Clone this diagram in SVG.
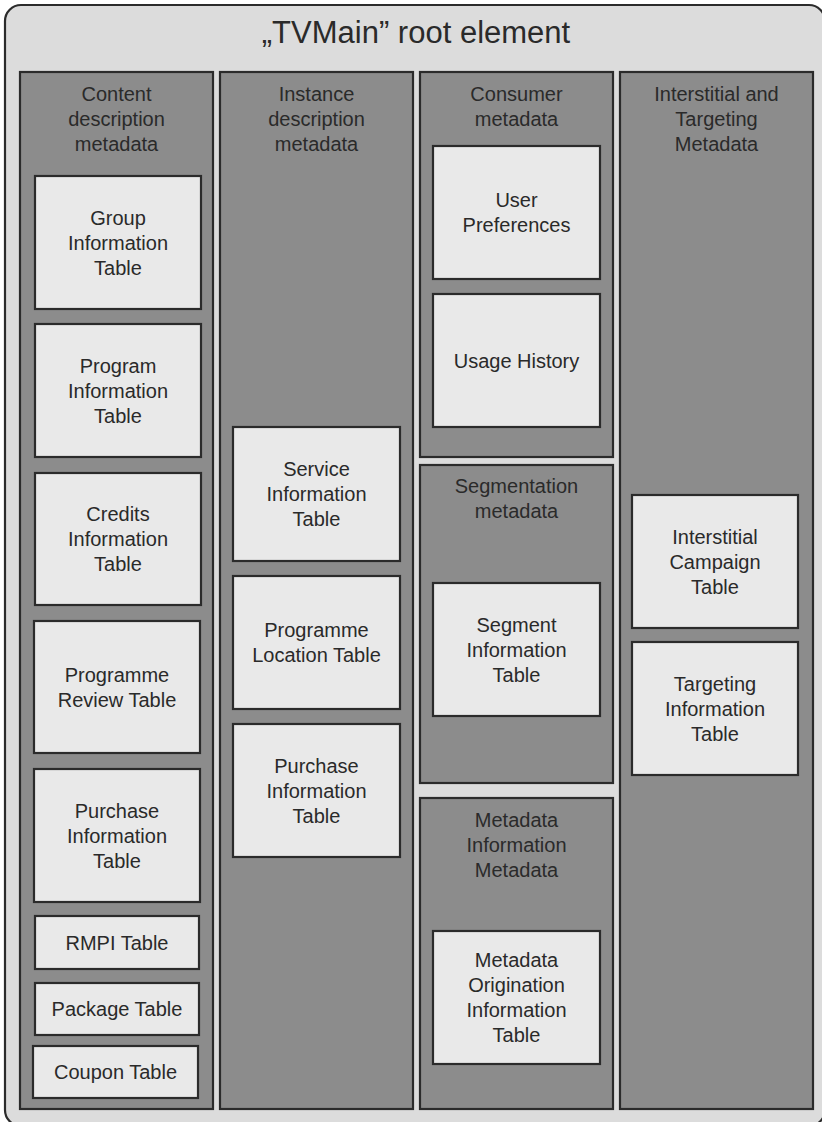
<svg xmlns="http://www.w3.org/2000/svg" width="822" height="1122" viewBox="0 0 822 1122">
<style>
.outer{fill:#dcdcdc;stroke:#2b2b2b;stroke-width:2.2}
.col{fill:#8c8c8c;stroke:#2b2b2b;stroke-width:2.2}
.box{fill:#e9e9e9;stroke:#2b2b2b;stroke-width:2.2}
text{font-family:"Liberation Sans",Arial,sans-serif;font-size:20px;fill:#2a2a2a;text-anchor:middle}
.title{font-size:31px}
</style>
<rect x="0" y="0" width="822" height="1122" fill="#ffffff"/>
<g id="root">
<rect class="outer" x="5" y="5" width="820" height="1121" rx="16"/>
<text class="title" x="416" y="43">„TVMain” root element</text>
</g>
<g id="col-content">
<rect class="col" x="20" y="72" width="193" height="1037"/>
<text x="116.5" y="101">Content</text>
<text x="116.5" y="126">description</text>
<text x="116.5" y="151">metadata</text>
</g>
<g id="col-instance">
<rect class="col" x="220" y="72" width="193" height="1037"/>
<text x="316.5" y="101">Instance</text>
<text x="316.5" y="126">description</text>
<text x="316.5" y="151">metadata</text>
</g>
<g id="panel-consumer">
<rect class="col" x="420" y="72" width="193" height="385"/>
<text x="516.5" y="101">Consumer</text>
<text x="516.5" y="126">metadata</text>
</g>
<g id="panel-segmentation">
<rect class="col" x="420" y="465" width="193" height="318"/>
<text x="516.5" y="493">Segmentation</text>
<text x="516.5" y="518">metadata</text>
</g>
<g id="panel-metainfo">
<rect class="col" x="420" y="798" width="193" height="311"/>
<text x="516.5" y="827">Metadata</text>
<text x="516.5" y="852">Information</text>
<text x="516.5" y="877">Metadata</text>
</g>
<g id="col-interstitial">
<rect class="col" x="620" y="72" width="193" height="1037"/>
<text x="716.5" y="101">Interstitial and</text>
<text x="716.5" y="126">Targeting</text>
<text x="716.5" y="151">Metadata</text>
</g>
<g id="group-info">
<rect class="box" x="35" y="176" width="166" height="133"/>
<text x="118" y="224.5">Group</text><text x="118" y="249.5">Information</text><text x="118" y="274.5">Table</text>
</g>
<g id="program-info">
<rect class="box" x="35" y="324" width="166" height="133"/>
<text x="118" y="372.5">Program</text><text x="118" y="397.5">Information</text><text x="118" y="422.5">Table</text>
</g>
<g id="credits-info">
<rect class="box" x="35" y="473" width="166" height="132"/>
<text x="118" y="521">Credits</text><text x="118" y="546">Information</text><text x="118" y="571">Table</text>
</g>
<g id="programme-review">
<rect class="box" x="34" y="621" width="166" height="132"/>
<text x="117" y="681.5">Programme</text><text x="117" y="706.5">Review Table</text>
</g>
<g id="purchase-info-1">
<rect class="box" x="34" y="769" width="166" height="133"/>
<text x="117" y="817.5">Purchase</text><text x="117" y="842.5">Information</text><text x="117" y="867.5">Table</text>
</g>
<g id="rmpi">
<rect class="box" x="35" y="916" width="164" height="53"/>
<text x="117" y="949.5">RMPI Table</text>
</g>
<g id="package">
<rect class="box" x="35" y="983" width="164" height="52"/>
<text x="117" y="1016">Package Table</text>
</g>
<g id="coupon">
<rect class="box" x="33" y="1046" width="165" height="52"/>
<text x="115.5" y="1079">Coupon Table</text>
</g>
<g id="service-info">
<rect class="box" x="233" y="427" width="167" height="134"/>
<text x="316.5" y="476">Service</text><text x="316.5" y="501">Information</text><text x="316.5" y="526">Table</text>
</g>
<g id="programme-location">
<rect class="box" x="233" y="576" width="167" height="133"/>
<text x="316.5" y="637">Programme</text><text x="316.5" y="662">Location Table</text>
</g>
<g id="purchase-info-2">
<rect class="box" x="233" y="724" width="167" height="133"/>
<text x="316.5" y="772.5">Purchase</text><text x="316.5" y="797.5">Information</text><text x="316.5" y="822.5">Table</text>
</g>
<g id="user-preferences">
<rect class="box" x="433" y="146" width="167" height="133"/>
<text x="516.5" y="207">User</text><text x="516.5" y="232">Preferences</text>
</g>
<g id="usage-history">
<rect class="box" x="433" y="294" width="167" height="133"/>
<text x="516.5" y="367.5">Usage History</text>
</g>
<g id="segment-info">
<rect class="box" x="433" y="583" width="167" height="133"/>
<text x="516.5" y="631.5">Segment</text><text x="516.5" y="656.5">Information</text><text x="516.5" y="681.5">Table</text>
</g>
<g id="metadata-origination">
<rect class="box" x="433" y="931" width="167" height="133"/>
<text x="516.5" y="967">Metadata</text><text x="516.5" y="992">Origination</text><text x="516.5" y="1017">Information</text><text x="516.5" y="1042">Table</text>
</g>
<g id="interstitial-campaign">
<rect class="box" x="632" y="495" width="166" height="133"/>
<text x="715" y="543.5">Interstitial</text><text x="715" y="568.5">Campaign</text><text x="715" y="593.5">Table</text>
</g>
<g id="targeting-info">
<rect class="box" x="632" y="642" width="166" height="133"/>
<text x="715" y="690.5">Targeting</text><text x="715" y="715.5">Information</text><text x="715" y="740.5">Table</text>
</g>
<g id="connectors"></g>
</svg>
